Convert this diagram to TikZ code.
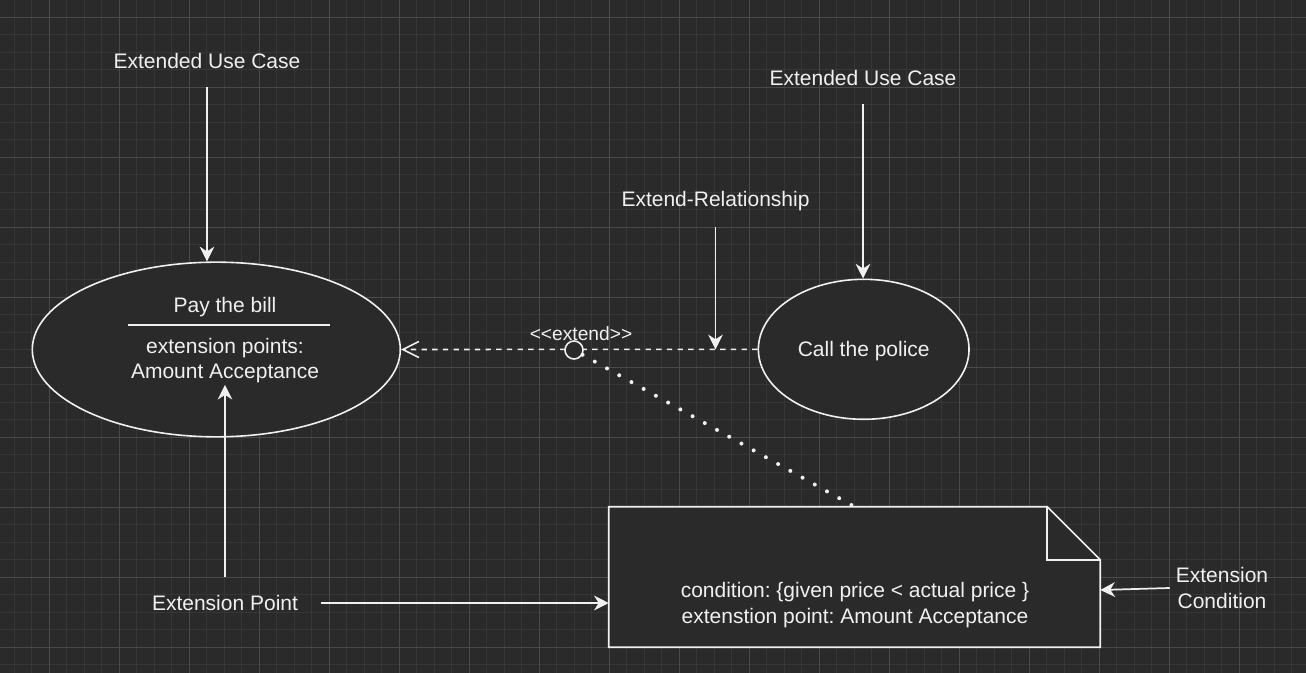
\documentclass[tikz,border=0pt]{standalone}
\usepackage{fontspec}
\setmainfont{Liberation Sans}
\usepackage{xcolor}
\usepackage{tikz}
\usetikzlibrary{shapes.geometric, arrows.meta, positioning, calc}
\definecolor{canvas}{HTML}{2A2A2A}
\definecolor{gridminor}{HTML}{363636}
\definecolor{gridmajor}{HTML}{4A4A4A}
\definecolor{ink}{HTML}{F0F0F0}
\frenchspacing

\begin{document}
\begin{tikzpicture}[x=0.75pt, y=-0.75pt,
    usecase/.style={ellipse, draw=ink, fill=canvas, line width=1.2pt, inner sep=0pt},
    txt/.style={text=ink, font=\fontsize{15.75}{19.5}\selectfont, align=center, inner sep=1pt},
    lbl/.style={txt, minimum height=39pt},
    smalltxt/.style={text=ink, font=\fontsize{14.4}{17}\selectfont, inner sep=1pt},
    arr/.style={-{Stealth[length=11pt, width=11pt, inset=3.5pt]}, line width=1.3pt, ink},
    extline/.style={-{Straight Barb[length=12pt, width=12pt]}, line width=1.2pt, ink, dash pattern=on 4pt off 4pt},
    dotline/.style={ink, line width=3pt, line cap=round, dash pattern=on 0pt off 10.5pt},
    noteline/.style={draw=ink, line width=1.2pt},
    minorgrid/.style={gridminor, line width=0.6pt},
    majorgrid/.style={gridmajor, line width=0.6pt}
]
\fill[canvas] (0,0) rectangle (1306,673);
\useasboundingbox (0,0) rectangle (1306,673);
\foreach \gx in {14,31.5,...,1306} \draw[minorgrid] (\gx,0) -- (\gx,673);
\foreach \gy in {-0.2,17.3,...,673} \draw[minorgrid] (0,\gy) -- (1306,\gy);
\foreach \gx in {49,119,...,1306} \draw[majorgrid] (\gx,0) -- (\gx,673);
\foreach \gy in {17.3,87.3,...,673} \draw[majorgrid] (0,\gy) -- (1306,\gy);

\node[usecase, minimum width=276pt, minimum height=131pt] (pay) at (216.3,349.5) {};
\node[txt] (payname) at (225,307) {Pay the bill};
\draw[ink, line width=1.2pt] (128,325) -- (330,325);
\node[txt, font=\fontsize{15.75}{18.75}\selectfont] (paypts) at (225,361) {extension points:\\Amount Acceptance};
\node[usecase, minimum width=158pt, minimum height=105pt] (call) at (863.7,349.3) {};
\node[txt] (callname) at (863.7,351) {Call the police};

\node[inner sep=0pt, minimum width=368.25pt, minimum height=105pt] (note) at (854.5,577) {};
\draw[noteline, fill=canvas] (note.north west) -- ($(note.north east)+(-53,0)$) -- ($(note.north east)+(0,53)$) -- (note.south east) -- (note.south west) -- cycle;
\draw[noteline] ($(note.north east)+(-53,0)$) |- ($(note.north east)+(0,53)$);
\node[txt] (notetxt) at (855,605) {condition: \{given price < actual price \}\\extenstion point: Amount Acceptance};

\node[lbl] (uc1) at (207,61) {Extended Use Case};
\node[lbl] (uc2) at (863,78) {Extended Use Case};
\node[lbl] (rel) at (715.5,201) {Extend-Relationship};
\node[lbl, minimum width=144pt] (ept) at (225,603) {Extension Point};
\node[txt, minimum width=78pt] (cond) at (1222,588) {Extension\\Condition};

\draw[extline] (call.west) -- (pay.east);
\node[circle, draw=ink, fill=canvas, line width=1.2pt, minimum size=13.5pt, inner sep=0pt] (ext) at (574,350) {};
\node[smalltxt] (extlbl) at (581,334) {<{}<extend>{}>};
\draw[dotline] (ext) -- (note.north);

\draw[arr] (uc1.south) -- (uc1.south |- pay.north);
\draw[arr] (uc2.south) -- (uc2.south |- call.north);
\draw[arr] (rel.south) -- (rel.south |- call.west);
\draw[arr] (ept.north) -- (ept.north |- paypts.south);
\draw[arr] (ept.east) -- (ept.east -| note.west);
\draw[arr] (cond.west) -- ($(note.east)+(0,13)$);
\end{tikzpicture}
\end{document}
